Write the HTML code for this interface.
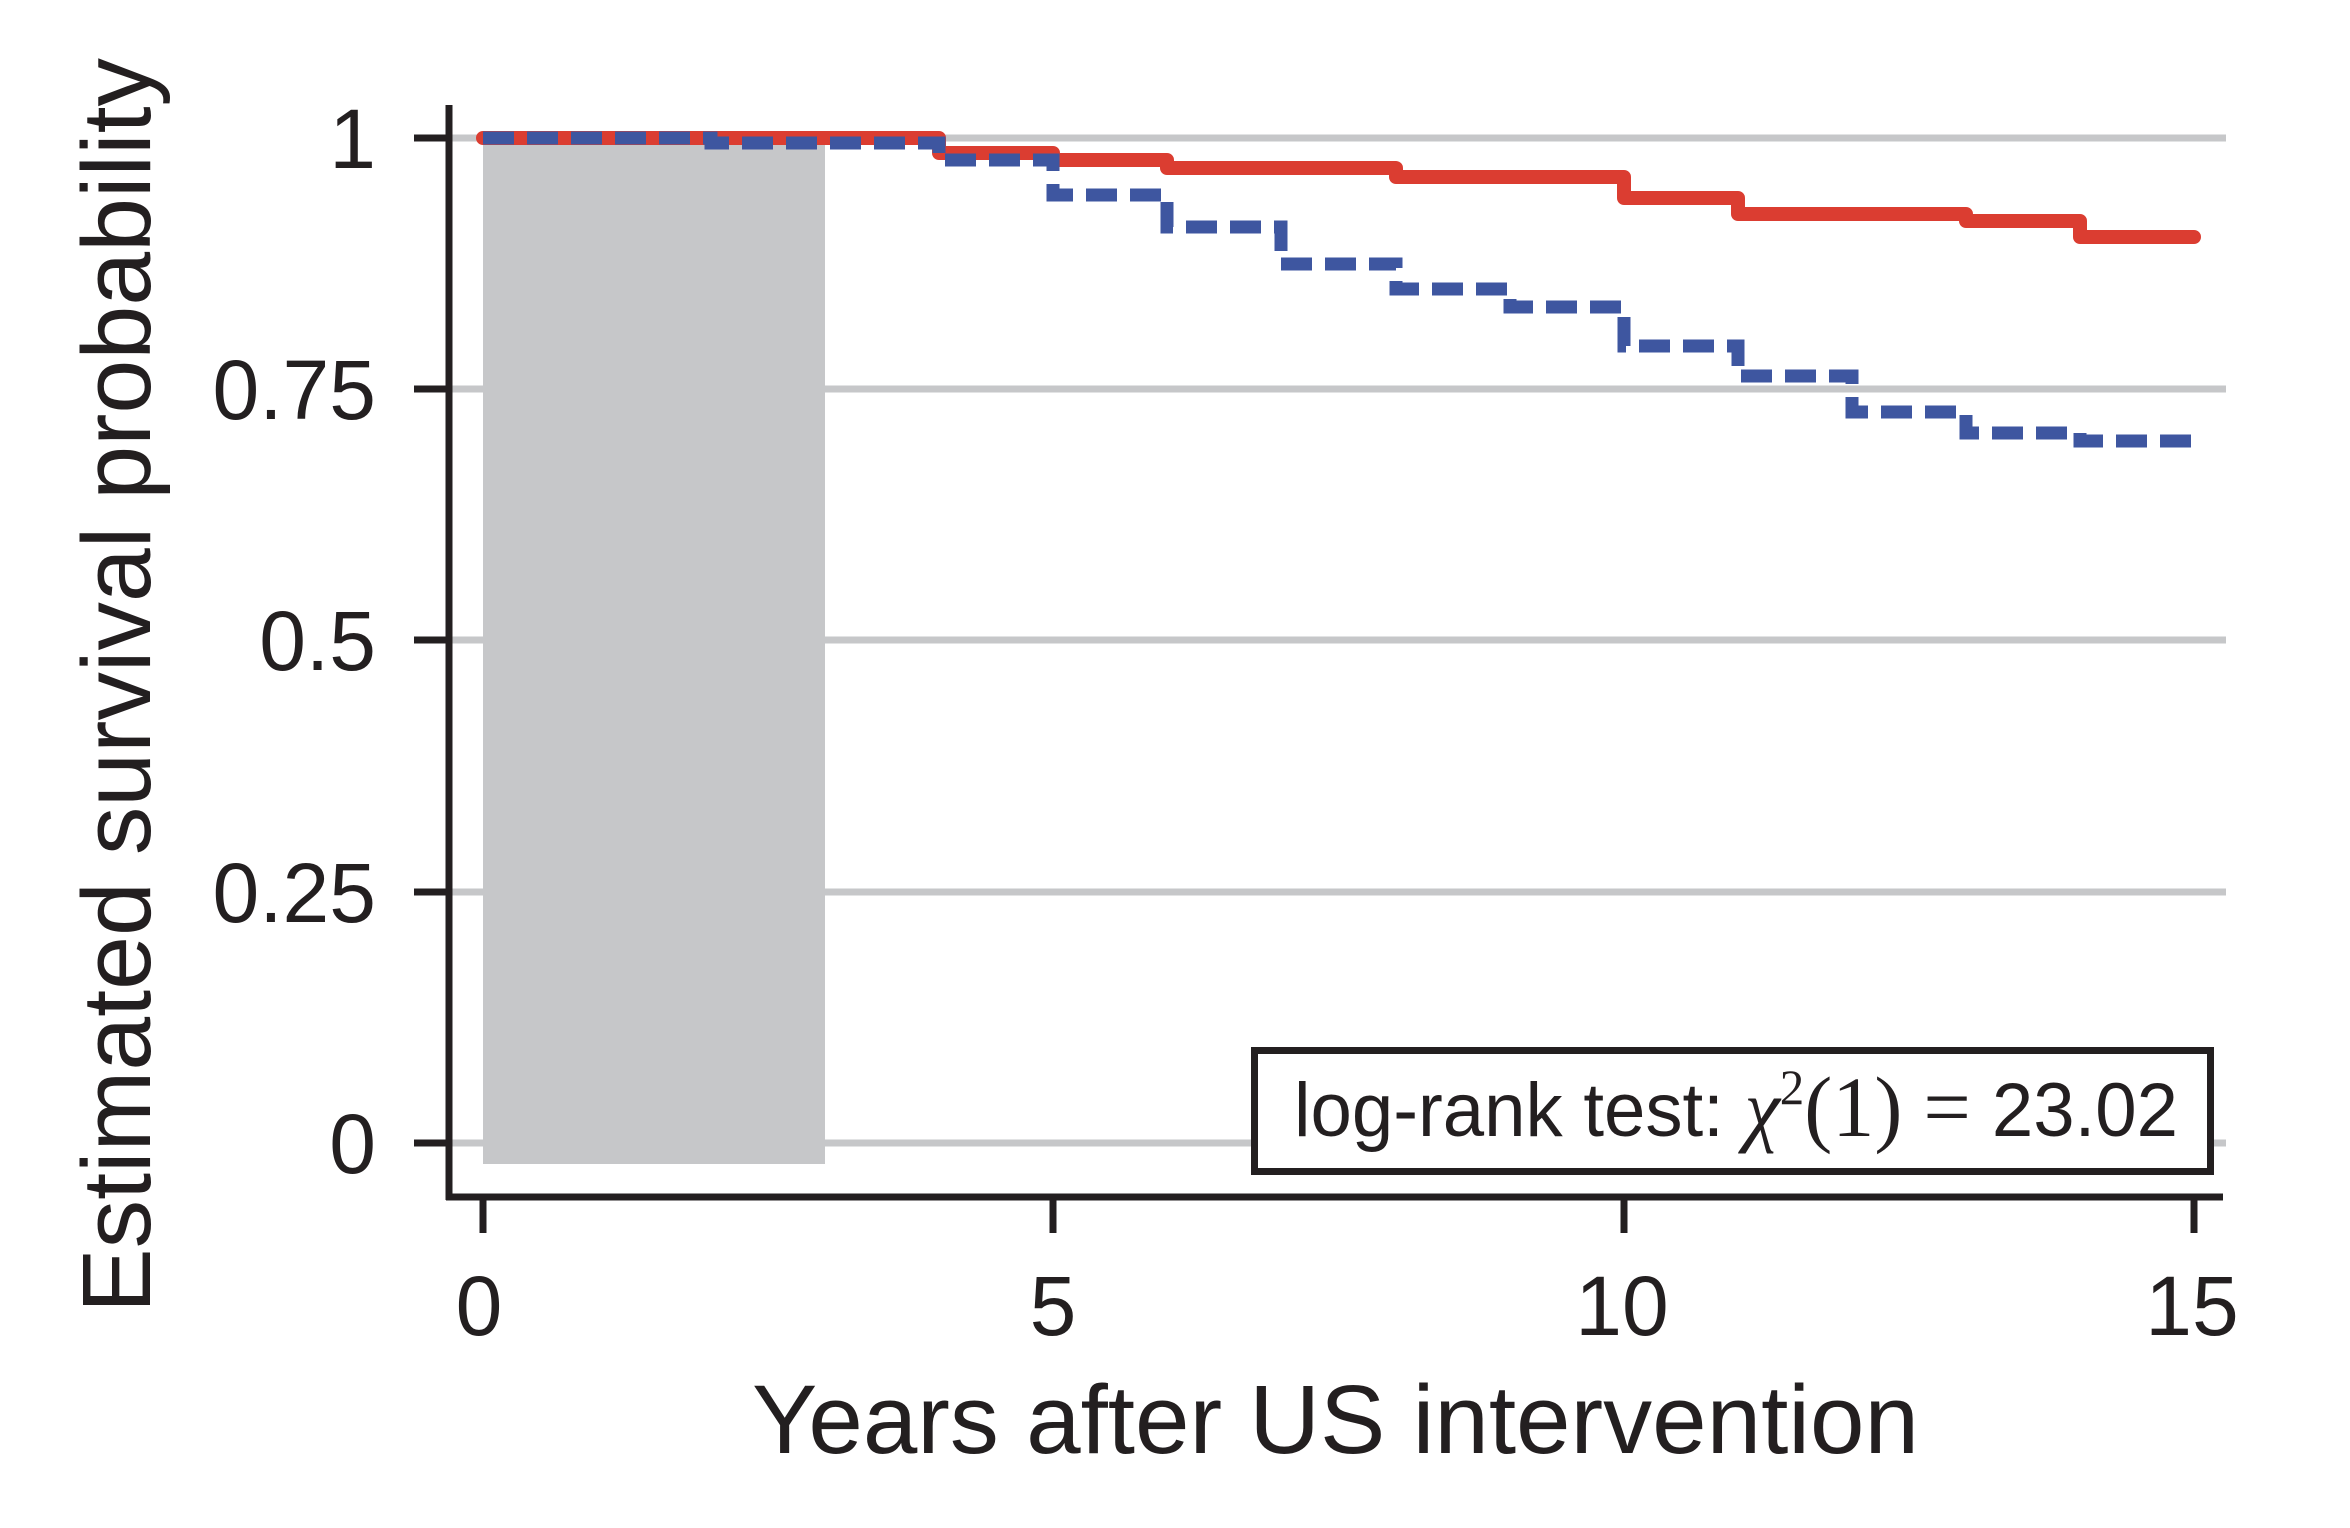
<!DOCTYPE html>
<html><head><meta charset="utf-8"><style>html,body{margin:0;padding:0;background:#fff}svg{display:block}</style></head>
<body>
<svg width="2350" height="1528" viewBox="0 0 2350 1528" xmlns="http://www.w3.org/2000/svg">
<g stroke="#c6c7c9" stroke-width="7">
<line x1="451" y1="138" x2="2226" y2="138"/>
<line x1="451" y1="389" x2="2226" y2="389"/>
<line x1="451" y1="640" x2="2226" y2="640"/>
<line x1="451" y1="892" x2="2226" y2="892"/>
<line x1="451" y1="1143" x2="2226" y2="1143"/>
</g>
<rect x="483" y="143" width="342" height="1021" fill="#c6c7c9"/>
<polyline fill="none" stroke="#db3d31" stroke-width="14" stroke-linejoin="round" stroke-linecap="round"
points="483,138 939,138 939,153 1053,153 1053,160 1167,160 1167,168 1396,168 1396,177 1624,177 1624,198 1738,198 1738,214 1966,214 1966,221 2080,221 2080,237 2194,237"/>
<polyline fill="none" stroke="#3e56a0" stroke-width="13" stroke-dasharray="31 13"
points="483,138 711,138 711,143 939,143 939,160 1053,160 1053,195 1167,195 1167,227 1281,227 1281,264 1396,264 1396,289 1510,289 1510,307 1624,307 1624,346 1738,346 1738,376 1852,376 1852,412 1966,412 1966,433 2080,433 2080,441 2194,441"/>
<g stroke="#231f20" stroke-width="7" fill="none">
<line x1="449" y1="105" x2="449" y2="1200"/>
<line x1="446" y1="1197" x2="2223" y2="1197"/>
<line x1="414" y1="138" x2="449" y2="138"/>
<line x1="414" y1="389" x2="449" y2="389"/>
<line x1="414" y1="640" x2="449" y2="640"/>
<line x1="414" y1="892" x2="449" y2="892"/>
<line x1="414" y1="1143" x2="449" y2="1143"/>
<line x1="483" y1="1197" x2="483" y2="1233"/>
<line x1="1053" y1="1197" x2="1053" y2="1233"/>
<line x1="1624" y1="1197" x2="1624" y2="1233"/>
<line x1="2194" y1="1197" x2="2194" y2="1233"/>
<rect x="1254.5" y="1050.5" width="956" height="121" fill="#fff"/>
</g>
<g font-family="Liberation Sans, sans-serif" font-size="84" fill="#231f20">
<g text-anchor="end">
<text x="376" y="168">1</text>
<text x="376" y="419">0.75</text>
<text x="376" y="670">0.5</text>
<text x="376" y="922">0.25</text>
<text x="376" y="1173">0</text>
</g>
<g text-anchor="middle">
<text x="479" y="1335">0</text>
<text x="1053" y="1335">5</text>
<text x="1622" y="1335">10</text>
<text x="2192" y="1335">15</text>
</g>
<text x="752" y="1453" font-size="97" textLength="1167" lengthAdjust="spacingAndGlyphs">Years after US intervention</text>
<text transform="translate(150,1313) rotate(-90)" font-size="97" textLength="1255" lengthAdjust="spacingAndGlyphs">Estimated survival probability</text>
<text x="1294" y="1136" font-size="76" textLength="884" lengthAdjust="spacingAndGlyphs">log-rank test: <tspan font-family="Liberation Serif, serif" font-style="italic" font-size="82">χ</tspan><tspan font-family="Liberation Serif, serif" font-size="50" dy="-32">2</tspan><tspan font-family="Liberation Serif, serif" font-size="86" dy="32">(1) = </tspan>23.02</text>
</g>
</svg>
</body></html>
